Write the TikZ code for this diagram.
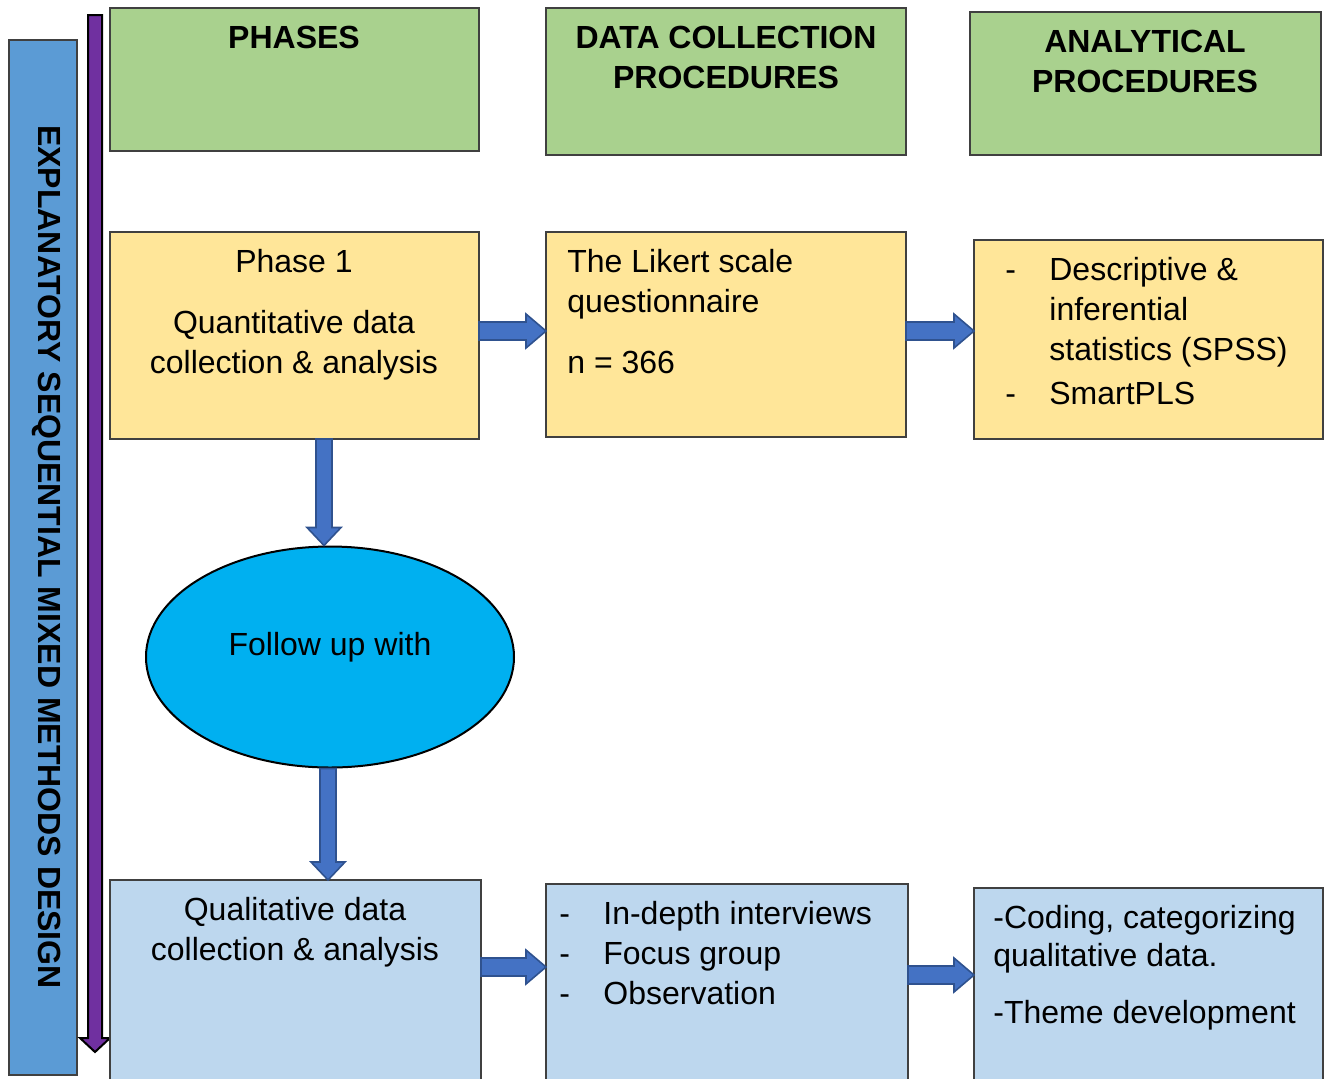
\documentclass[tikz,border=0pt]{standalone}
\usepackage{fontspec}
\setmainfont{Liberation Sans}
\usetikzlibrary{calc,fit,shapes.geometric}

\definecolor{hdgreen}{HTML}{A9D18E}
\definecolor{qnyellow}{HTML}{FFE699}
\definecolor{qlblue}{HTML}{BDD7EE}
\definecolor{sidebar}{HTML}{5B9BD5}
\definecolor{followcyan}{HTML}{00B0F0}
\definecolor{arrowblue}{HTML}{4472C4}
\definecolor{arrowedge}{HTML}{2F528F}
\definecolor{timepurple}{HTML}{7030A0}

\tikzset{
  box/.style={draw=black!75, line width=0.6pt, inner sep=0pt, outer sep=0pt},
  txt/.style={inner sep=0pt, font=\fontsize{16}{20}\selectfont},
  head/.style={inner sep=0pt, font=\fontsize{16}{20}\selectfont\bfseries},
  blockarrow/.style={fill=arrowblue, draw=arrowedge, line width=0.8pt},
  timearrow/.style={fill=timepurple, draw=black, line width=1pt},
}

% block arrow to the right / downwards, between two points
\newcommand{\rarrow}[2]{\draw[blockarrow] ($(#1)+(0,-9)$) -- ($(#2)+(-20,-9)$) -- ($(#2)+(-20,-17)$) -- (#2) -- ($(#2)+(-20,17)$) -- ($(#2)+(-20,9)$) -- ($(#1)+(0,9)$) -- cycle;}
\newcommand{\darrow}[2]{\draw[blockarrow] ($(#1)+(-8,0)$) -- ($(#2)+(-8,-18)$) -- ($(#2)+(-17,-18)$) -- (#2) -- ($(#2)+(17,-18)$) -- ($(#2)+(8,-18)$) -- ($(#1)+(8,0)$) -- cycle;}

\begin{document}
\begin{tikzpicture}[x=0.5pt, y=-0.5pt]
\useasboundingbox (0,0) rectangle (1329,1078);
\clip (0,0) rectangle (1329,1078);

% side bar and time arrow
\node[box, fill=sidebar, fit={(9,40) (77,1075)}] (side) {};
\node[head, rotate=-90] (sidet) at (47,557) {EXPLANATORY SEQUENTIAL MIXED METHODS DESIGN};
\coordinate (tstart) at (95,15);
\coordinate (tend) at (95,1052);
\draw[timearrow] ($(tstart)+(-7,0)$) -- ($(tend)+(-7,-14)$) -- ($(tend)+(-15,-14)$) -- (tend) -- ($(tend)+(15,-14)$) -- ($(tend)+(7,-14)$) -- ($(tstart)+(7,0)$) -- cycle;

% column headers
\node[box, fill=hdgreen, fit={(110,8) (479,151)}] (hph) {};
\node[box, fill=hdgreen, fit={(546,8) (906,155)}] (hdc) {};
\node[box, fill=hdgreen, fit={(970,12) (1321,155)}] (han) {};
\node[head, anchor=base] (hpht) at (294,48) {PHASES};
\node[head, anchor=base] (hdct) at (726,48) {\begin{tabular}[t]{@{}c@{}}DATA COLLECTION\\PROCEDURES\end{tabular}};
\node[head, anchor=base] (hant) at (1145,52) {\begin{tabular}[t]{@{}c@{}}ANALYTICAL\\PROCEDURES\end{tabular}};

% quantitative row
\node[box, fill=qnyellow, fit={(110,232) (479,439)}] (ph1) {};
\node[box, fill=qnyellow, fit={(546,232) (906,437)}] (lik) {};
\node[box, fill=qnyellow, fit={(974,240) (1323,439)}] (desc) {};
\node[txt, anchor=base] (ph1t) at (294,272) {\begin{tabular}[t]{@{}c@{}}Phase 1\\[10.5pt]Quantitative data\\collection \& analysis\end{tabular}};
\node[txt, anchor=base west] (likt) at (567,272) {\begin{tabular}[t]{@{}l@{}}The Likert scale\\questionnaire\\[10.5pt]n = 366\end{tabular}};
\node[txt, anchor=base west] (desct) at (1005,280) {\begin{tabular}[t]{@{}p{22pt}@{}l@{}}-&Descriptive \&\\&inferential\\&statistics (SPSS)\\[2pt]-&SmartPLS\end{tabular}};

% follow up
\node[ellipse, draw=black, line width=1pt, fill=followcyan, minimum width=184pt, minimum height=110.5pt, inner sep=0pt] (fol) at (330,657) {};
\node[txt] (folt) at (330,647) {Follow up with};

% qualitative row
\node[box, fill=qlblue, fit={(110,880) (481,1110)}] (qual) {};
\node[box, fill=qlblue, fit={(546,884) (908,1110)}] (meth) {};
\node[box, fill=qlblue, fit={(974,888) (1323,1110)}] (code) {};
\node[txt, anchor=base] (qualt) at (295,920) {\begin{tabular}[t]{@{}c@{}}Qualitative data\\collection \& analysis\end{tabular}};
\node[txt, anchor=base west] (metht) at (559,924) {\begin{tabular}[t]{@{}p{22pt}@{}l@{}}-&In-depth interviews\\-&Focus group\\-&Observation\end{tabular}};
\node[txt, anchor=base west] (codet) at (993,928) {\begin{tabular}[t]{@{}l@{}}-Coding, categorizing\\[-1pt]qualitative data.\\[8.5pt]-Theme development\end{tabular}};

% arrows
\coordinate (r1) at (0,331);
\coordinate (r2) at (0,967);
\coordinate (r3) at (0,975);
\coordinate (c1) at (324,0);
\coordinate (c2) at (328,0);
\rarrow{ph1.east |- r1}{lik.west |- r1}
\rarrow{lik.east |- r1}{desc.west |- r1}
\rarrow{qual.east |- r2}{meth.west |- r2}
\rarrow{meth.east |- r3}{code.west |- r3}
\darrow{c1 |- ph1.south}{c1 |- fol.north}
\darrow{c2 |- fol.south}{c2 |- qual.north}
\end{tikzpicture}
\end{document}
